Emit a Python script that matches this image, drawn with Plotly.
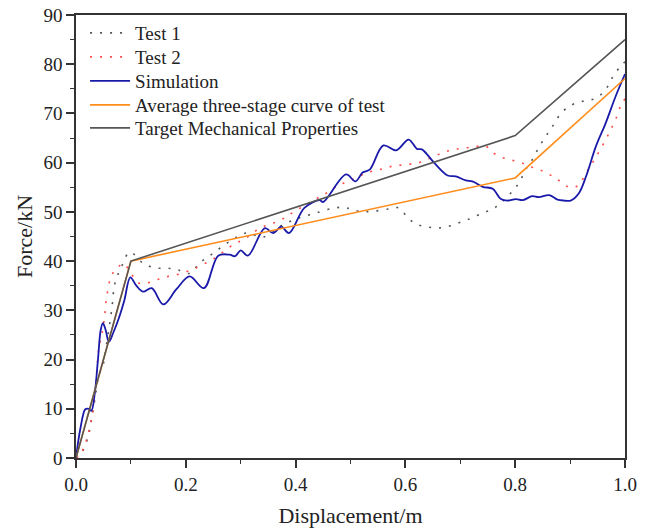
import plotly.graph_objects as go

# Target mechanical properties (three-stage)
target_x = [0.0, 0.1, 0.8, 1.0]
target_y = [0.0, 40.0, 65.5, 85.0]

# Average three-stage curve of test
avg_x = [0.0, 0.1, 0.8, 1.0]
avg_y = [0.0, 40.0, 56.9, 77.1]

# Simulation
sim_x = [0.0, 0.008, 0.017, 0.023, 0.028, 0.034, 0.040, 0.045, 0.049, 0.054, 0.060, 0.068,
         0.078, 0.088, 0.099, 0.110, 0.122, 0.138, 0.159, 0.183, 0.207, 0.233, 0.259, 0.28,
         0.29, 0.30, 0.313, 0.344, 0.359, 0.374, 0.388, 0.416, 0.444, 0.45, 0.492, 0.509,
         0.522, 0.535, 0.56, 0.583, 0.606, 0.621, 0.63, 0.653, 0.677, 0.692, 0.71, 0.722,
         0.741, 0.759, 0.774, 0.786, 0.801, 0.814, 0.831, 0.843, 0.862, 0.877, 0.889, 0.901,
         0.916, 0.929, 0.947, 0.965, 0.983, 1.0]
sim_y = [0.0, 6.0, 9.9, 10.0, 9.6, 13.0, 20.0, 26.0, 27.4, 26.0, 23.6, 25.5,
         28.4, 32.0, 36.7, 35.0, 33.8, 34.5, 31.2, 34.3, 36.9, 34.5, 41.1, 41.3,
         41.0, 42.2, 41.1, 46.7, 45.7, 47.0, 45.7, 50.8, 52.4, 52.0, 57.6, 56.2,
         58.0, 58.6, 63.5, 62.5, 64.7, 62.8, 62.7, 59.9, 57.4, 57.2, 56.4, 56.2,
         55.1, 54.7, 52.6, 52.3, 52.6, 52.4, 53.2, 53.0, 53.4, 52.5, 52.3, 52.3,
         53.8, 57.2, 63.3, 68.1, 73.5, 78.0]

# Test 1
t1_x = [0.0, 0.010, 0.022, 0.028, 0.035, 0.041, 0.050, 0.055, 0.065, 0.071, 0.083, 0.098,
        0.122, 0.144, 0.165, 0.186, 0.207, 0.225, 0.25, 0.28, 0.31, 0.341, 0.377, 0.407,
        0.438, 0.471, 0.49, 0.504, 0.522, 0.54, 0.57, 0.589, 0.604, 0.619, 0.635, 0.653,
        0.668, 0.686, 0.705, 0.722, 0.741, 0.756, 0.771, 0.783, 0.795, 0.807, 0.819, 0.831,
        0.844, 0.856, 0.868, 0.88, 0.895, 0.913, 0.929, 0.947, 0.965, 0.977, 0.992, 1.0]
t1_y = [0.0, 1.0, 4.3, 7.7, 12.4, 16.5, 19.2, 22.6, 30.1, 35.5, 38.9, 41.8,
        39.6, 38.6, 38.6, 38.2, 37.5, 39.6, 41.6, 44.0, 45.7, 44.9, 47.4, 48.8,
        49.8, 50.8, 50.9, 50.4, 50.1, 50.1, 50.6, 50.8, 48.8, 47.6, 47.0, 46.8,
        46.8, 47.3, 48.1, 48.8, 49.8, 50.4, 51.5, 52.8, 54.2, 55.9, 58.6, 60.6,
        63.3, 65.4, 67.4, 69.5, 71.2, 72.2, 72.6, 73.1, 74.9, 77.3, 79.6, 80.5]

# Test 2
t2_x = [0.0, 0.007, 0.015, 0.021, 0.029, 0.035, 0.038, 0.042, 0.047, 0.052, 0.056, 0.065,
        0.075, 0.085, 0.095, 0.113, 0.128, 0.147, 0.168, 0.189, 0.21, 0.229, 0.25, 0.286,
        0.31, 0.335, 0.359, 0.38, 0.398, 0.43, 0.456, 0.48, 0.504, 0.529, 0.553, 0.577,
        0.601, 0.625, 0.647, 0.668, 0.689, 0.71, 0.729, 0.747, 0.756, 0.771, 0.789, 0.807,
        0.825, 0.844, 0.862, 0.877, 0.889, 0.904, 0.916, 0.929, 0.941, 0.953, 0.965, 0.974,
        0.983, 0.992, 1.0]
t2_y = [0.0, 0.5, 2.4, 4.4, 8.4, 13.8, 17.9, 22.6, 25.0, 28.7, 32.8, 37.2,
        38.5, 39.5, 38.5, 35.6, 35.5, 36.2, 36.9, 37.4, 38.2, 39.2, 40.4, 43.3,
        44.7, 46.7, 47.7, 48.8, 50.1, 52.2, 53.8, 55.5, 56.6, 57.9, 58.6, 59.3,
        59.6, 60.0, 61.0, 62.0, 62.7, 63.0, 63.3, 63.3, 62.3, 61.3, 60.6, 60.2,
        59.3, 58.6, 57.6, 56.6, 55.5, 54.9, 55.5, 57.9, 60.0, 62.3, 64.7, 66.7,
        68.8, 71.5, 73.0]

x_ticks = [0.0, 0.2, 0.4, 0.6, 0.8, 1.0]
y_ticks = [0, 10, 20, 30, 40, 50, 60, 70, 80, 90]

FONT = "Liberation Serif"
AX = "#333333"
TXT = "#222222"

fig = go.Figure()
fig.add_trace(go.Scatter(x=t1_x, y=t1_y, mode="lines", name="Test 1", legend="legend",
                         line=dict(color="#555555", width=1.6, dash="2px,8px", shape="spline")))
fig.add_trace(go.Scatter(x=t2_x, y=t2_y, mode="lines", name="Test 2", legend="legend2",
                         line=dict(color="#FF4A4A", width=1.6, dash="2px,8px", shape="spline")))
fig.add_trace(go.Scatter(x=sim_x, y=sim_y, mode="lines", name="Simulation", legend="legend3",
                         line=dict(color="#1A1AAA", width=1.8, shape="spline", smoothing=1.0)))
fig.add_trace(go.Scatter(x=avg_x, y=avg_y, mode="lines", name="Average three-stage curve of test",
                         legend="legend4", line=dict(color="#FF8C1A", width=1.6)))
fig.add_trace(go.Scatter(x=target_x, y=target_y, mode="lines", name="Target Mechanical Properties",
                         legend="legend5", line=dict(color="#555555", width=1.6)))

# one legend box per row so the row spacing can follow the reference
row_y = [0.9594, 0.9052, 0.8510, 0.7968, 0.7449]
def leg(yv):
    return dict(x=0.0165, y=yv, xanchor="left", yanchor="middle", bgcolor="rgba(0,0,0,0)",
                font=dict(family=FONT, size=19, color=TXT), itemwidth=40)

fig.update_layout(
    width=648, height=528,
    margin=dict(l=76, r=23, t=15, b=70, autoexpand=False),
    paper_bgcolor="white", plot_bgcolor="white",
    font=dict(family=FONT, size=19, color=TXT),
    showlegend=True,
    legend=leg(row_y[0]), legend2=leg(row_y[1]), legend3=leg(row_y[2]),
    legend4=leg(row_y[3]), legend5=leg(row_y[4]),
)
fig.update_xaxes(range=[0, 1.0], tickvals=x_ticks, tickformat=".1f", automargin=False,
                 showline=True, linecolor=AX, linewidth=1.5, mirror=True,
                 ticks="outside", ticklen=8, tickwidth=1.5, tickcolor=AX,
                 minor=dict(ticks="outside", ticklen=4, tickwidth=1.2, tickcolor=AX, dtick=0.1),
                 showgrid=False, zeroline=False,
                 tickfont=dict(family=FONT, size=19, color=TXT),
                 title=dict(text="Displacement/m", font=dict(family=FONT, size=22, color=TXT),
                            standoff=16))
fig.update_yaxes(range=[0, 90], tickvals=y_ticks, automargin=False,
                 showline=True, linecolor=AX, linewidth=1.5, mirror=True,
                 ticks="outside", ticklen=8, tickwidth=1.5, tickcolor=AX,
                 minor=dict(ticks="outside", ticklen=4, tickwidth=1.2, tickcolor=AX, dtick=5),
                 showgrid=False, zeroline=False,
                 tickfont=dict(family=FONT, size=19, color=TXT),
                 title=dict(text="Force/kN", font=dict(family=FONT, size=22, color=TXT),
                            standoff=5))

fig.write_html("out.html")
